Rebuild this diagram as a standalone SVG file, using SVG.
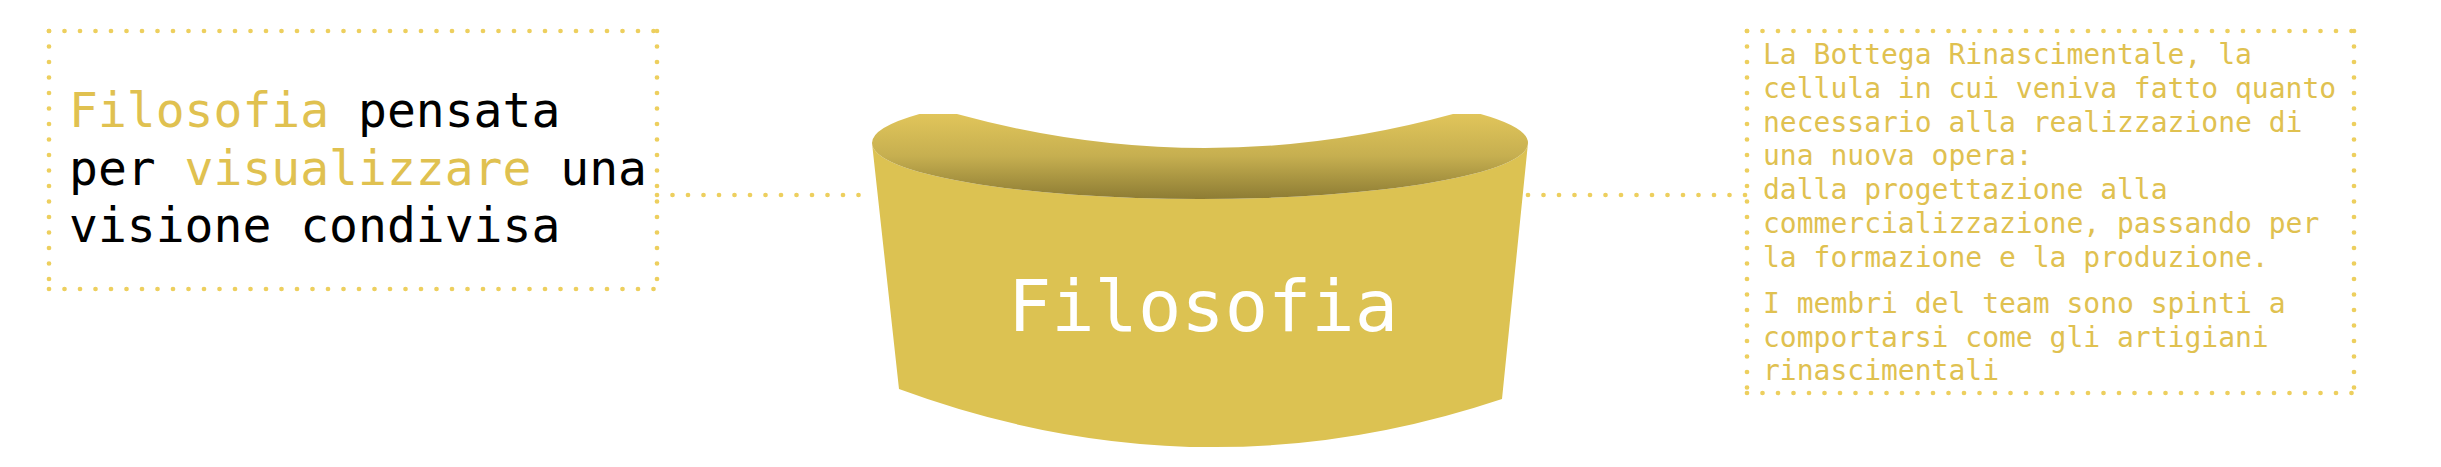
<svg xmlns="http://www.w3.org/2000/svg" width="2441" height="467" viewBox="0 0 2441 467">
  <style>
    .dots { fill: none; stroke: #EDCF5E; stroke-width: 4.7; stroke-linecap: round; stroke-dasharray: 0 15.5; }
    .mono { font-family: "DejaVu Sans Mono", "Liberation Mono", monospace; }
    .gold { fill: #E0C150; }
    .dark { fill: #000000; }
    .big { font-size: 48px; }
    .small { font-size: 28px; }
    .title { font-size: 72px; fill: #FFFFFF; }
  </style>
  <defs>
    <linearGradient id="topGrad" gradientUnits="userSpaceOnUse" x1="0" y1="112" x2="0" y2="200">
      <stop offset="0" stop-color="#E2C65B"/>
      <stop offset="0.5" stop-color="#C6AF50"/>
      <stop offset="1" stop-color="#8C7B33"/>
    </linearGradient>
  </defs>
  <rect width="2441" height="467" fill="#FFFFFF"/>

  <g id="connectors">
    <path class="dots" d="M 657 195 L 872 195"/>
    <path class="dots" d="M 1528 195 L 1747 195"/>
  </g>

  <g id="left-note">
    <path class="dots" d="M 49 31 L 657 31"/>
    <path class="dots" d="M 49 289 L 657 289"/>
    <path class="dots" d="M 49 31 L 49 289"/>
    <path class="dots" d="M 657 31 L 657 289"/>
    <text class="mono big" x="69" y="127"><tspan class="gold">Filosofia</tspan><tspan class="dark"> pensata</tspan></text>
    <text class="mono big" x="69" y="184.5"><tspan class="dark">per </tspan><tspan class="gold">visualizzare</tspan><tspan class="dark"> una</tspan></text>
    <text class="mono big dark" x="69" y="242">visione condivisa</text>
  </g>

  <g id="center-node">
    <path d="M 872 143 L 899 389 Q 1200 500 1502 399 L 1528 143 A 328 56 0 0 1 872 143 Z" fill="#DCC252"/>
    <path d="M 919.4 114 L 957 114 Q 1205 182 1453 114 L 1480.6 114 A 328 56 0 0 1 1528 143 A 328 56 0 0 1 872 143 A 328 56 0 0 1 919.4 114 Z" fill="url(#topGrad)"/>
    <text class="mono title" x="1203" y="331" text-anchor="middle">Filosofia</text>
  </g>

  <g id="right-note">
    <path class="dots" d="M 1747 31 L 2354 31"/>
    <path class="dots" d="M 1747 393 L 2354 393"/>
    <path class="dots" d="M 1747 31 L 1747 393"/>
    <path class="dots" d="M 2354 31 L 2354 393"/>
    <g class="mono small gold">
      <text x="1763" y="64.3">La Bottega Rinascimentale, la</text>
      <text x="1763" y="98">cellula in cui veniva fatto quanto</text>
      <text x="1763" y="131.7">necessario alla realizzazione di</text>
      <text x="1763" y="165.4">una nuova opera:</text>
      <text x="1763" y="199">dalla progettazione alla</text>
      <text x="1763" y="232.7">commercializzazione, passando per</text>
      <text x="1763" y="266.5">la formazione e la produzione.</text>
      <text x="1763" y="313">I membri del team sono spinti a</text>
      <text x="1763" y="346.5">comportarsi come gli artigiani</text>
      <text x="1763" y="380">rinascimentali</text>
    </g>
  </g>
</svg>
